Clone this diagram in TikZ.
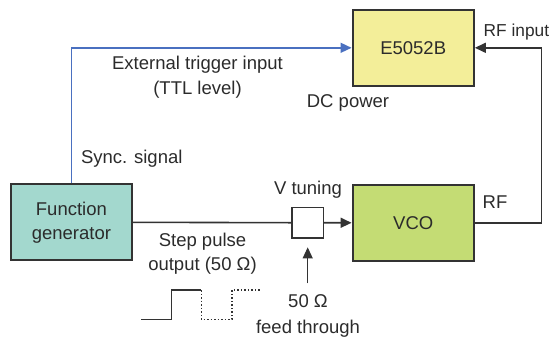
\documentclass[tikz,border=0pt]{standalone}
\usepackage{fontspec}
\setmainfont{Liberation Sans}
\usetikzlibrary{arrows.meta}
\definecolor{txt}{HTML}{2B2B2B}
\definecolor{edge}{HTML}{333333}
\definecolor{yel}{HTML}{F3EE99}
\definecolor{grn}{HTML}{C4DC74}
\definecolor{teal}{HTML}{A3D8CE}
\definecolor{blu}{HTML}{4A70C0}
\tikzset{
  blk/.style={draw=edge, line width=2pt, minimum width=121.3pt, minimum height=76pt, inner sep=0pt, text=txt, align=center},
  lbl/.style={text=txt, inner sep=0pt, align=center},
  conn/.style={draw=edge, line width=1.6pt},
  arr/.style={conn, -{Triangle[length=11pt,width=10pt]}},
  barr/.style={draw=blu, line width=1.5pt, -{Triangle[length=11pt,width=10pt]}},
}
\begin{document}
\begin{tikzpicture}[x=1pt,y=-1pt,font=\fontsize{18.5}{24}\selectfont]
\useasboundingbox (0,0) rectangle (551,341);
\node[blk, fill=yel] (e5052) at (413.2,47.8) {E5052B};
\node[blk, fill=grn] (vco) at (413.2,222.8) {VCO};
\node[blk, fill=teal] (fg) at (71.4,222.3) {Function\\generator};
\node[draw=edge, line width=1.6pt, fill=white, minimum width=31.4pt, minimum height=30.7pt, inner sep=0pt] (sb) at (307.7,222.7) {};
\coordinate (rfc) at (541.3,222.8);
\coordinate (ft) at (307.7,283.3);
% connectors
\draw[barr] (fg.north) |- (e5052.west);
\draw[conn] (fg.east) -- (sb.west);
\draw[arr] (sb.east) -- (vco.west);
\draw[arr] (vco.east) -- (rfc) |- (e5052.east);
\draw[arr, line width=1pt, shorten >=8.5pt] (ft) -- (sb.south);
% labels
\node[lbl, font=\fontsize{18.5}{24.3}\selectfont] (ext) at (197.5,77.2) {External trigger input\\(TTL level)};
\node[lbl] (dc) at (348,102.7) {DC power};
\node[lbl, anchor=west] (sync) at (80.8,159) {Sync. signal};
\node[lbl] (vt) at (308,190) {V tuning};
\node[lbl] (rf) at (495,201.7) {RF};
\node[lbl, anchor=west, font=\fontsize{17.3}{20}\selectfont] (rfin) at (483.5,32.3) {RF input};
\node[lbl] (step) at (202.5,253.7) {Step pulse\\output (50 Ω)};
\node[lbl, font=\fontsize{18.5}{26}\selectfont] (fthr) at (308,316) {50 Ω\\feed through};
% waveform
\draw[draw=edge, line width=1.5pt] (141.3,319.3) -- (171.5,319.3) -- (171.5,290) -- (201.4,290);
\draw[draw=edge, line width=1.5pt, dotted] (201.4,290) -- (201.4,319.3) -- (232,319.3) -- (232,290) -- (260.8,290);
\end{tikzpicture}
\end{document}
